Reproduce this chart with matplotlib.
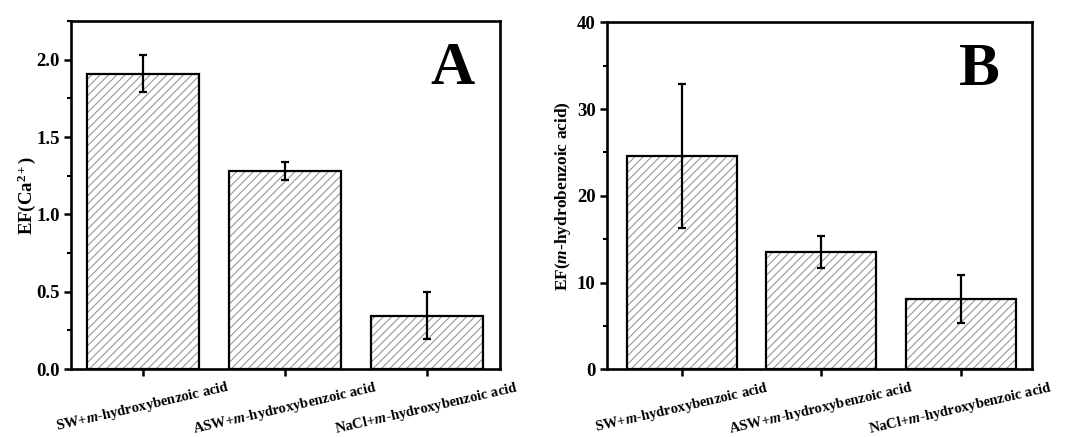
import matplotlib
matplotlib.use("Agg")
import matplotlib.pyplot as plt
from matplotlib.ticker import MultipleLocator, FormatStrFormatter

plt.rcParams['font.family'] = ['Liberation Serif', 'DejaVu Serif']
plt.rcParams['font.weight'] = 'bold'
plt.rcParams['mathtext.fontset'] = 'custom'
plt.rcParams['mathtext.rm'] = 'Liberation Serif:bold'
plt.rcParams['mathtext.bf'] = 'Liberation Serif:bold'
plt.rcParams['mathtext.it'] = 'Liberation Serif:italic:bold'
plt.rcParams['mathtext.bfit'] = 'Liberation Serif:italic:bold'
plt.rcParams['hatch.linewidth'] = 0.7

categories = ['SW+$\\mathit{m}$-hydroxybenzoic acid',
              'ASW+$\\mathit{m}$-hydroxybenzoic acid',
              'NaCl+$\\mathit{m}$-hydroxybenzoic acid']
ca_values = [1.91, 1.28, 0.345]
ca_errors = [0.12, 0.058, 0.15]
mh_values = [24.6, 13.55, 8.1]
mh_errors = [8.3, 1.85, 2.73]

fig = plt.figure(figsize=(10.69, 4.37), dpi=100)
axA = fig.add_axes([0.0664, 0.1556, 0.4013, 0.7963])
axB = fig.add_axes([0.5675, 0.155, 0.3976, 0.794])

def draw(ax, vals, errs, ylim, major, minor, fmt, ylabel, ylsize, lpad, letter, lx, ly, xlim):
    x = list(range(len(categories)))
    ax.bar(x, vals, width=0.79, color='white', edgecolor='#8a8a8a', linewidth=0,
           hatch='////', zorder=2)
    ax.bar(x, vals, width=0.79, fill=False, edgecolor='black', linewidth=1.6,
           zorder=2.5)
    ax.errorbar(x, vals, yerr=errs, fmt='none', ecolor='black', elinewidth=1.6,
                capsize=3, capthick=1.6, zorder=3)
    ax.set_ylim(*ylim)
    ax.set_xlim(*xlim)
    ax.yaxis.set_major_locator(MultipleLocator(major))
    ax.yaxis.set_minor_locator(MultipleLocator(minor))
    ax.yaxis.set_major_formatter(FormatStrFormatter(fmt))
    ax.set_xticks(x)
    ax.set_xticklabels(categories, rotation=13, ha='center', fontsize=10.5,
                       fontweight='bold')
    ax.tick_params(axis='x', which='major', direction='out', length=5, width=1.8, pad=2)
    ax.tick_params(axis='y', which='major', direction='out', length=5, width=1.8,
                   labelsize=13.5, pad=3)
    ax.tick_params(axis='y', which='minor', direction='out', length=3, width=1.5)
    for lbl in ax.get_yticklabels():
        lbl.set_fontweight('bold')
    for s in ax.spines.values():
        s.set_linewidth(1.9)
    ax.set_ylabel(ylabel, fontsize=ylsize, fontweight='bold', labelpad=lpad)
    ax.text(lx, ly, letter, transform=ax.transAxes, fontsize=44, fontweight='bold',
            ha='center', va='center')

draw(axA, ca_values, ca_errors, (0, 2.25), 0.5, 0.25, '%.1f',
     'EF(Ca$^{\\mathbf{2+}}$)', 13.5, -1, 'A', 0.89, 0.862, (-0.507, 2.514))
draw(axB, mh_values, mh_errors, (0, 40), 10, 5, '%d',
     'EF($\\mathit{m}$-hydrobenzoic acid)', 12.5, 3, 'B', 0.878, 0.862, (-0.54, 2.51))

fig.savefig('out.png', dpi=100)
